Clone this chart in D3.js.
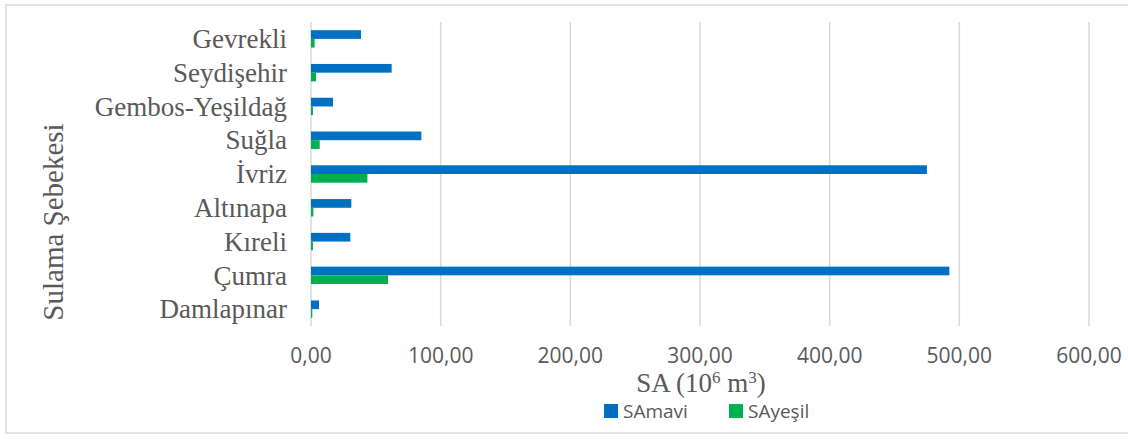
<!DOCTYPE html>
<html>
<head>
<meta charset="utf-8">
<script src="https://cdn.jsdelivr.net/npm/d3@7"></script>
<style>
  body { margin: 0; background: #fff; }
</style>
</head>
<body>
<div id="d3-container"></div>
<script>
/**
 * CONSTANTS AND GLOBALS
 * */
const width = 1128,
  height = 439,
  margin = { top: 22, bottom: 113, left: 311, right: 39 };

// categories listed top to bottom, as drawn
const categories = ["Gevrekli", "Seydişehir", "Gembos-Yeşildağ", "Suğla", "İvriz",
  "Altınapa", "Kıreli", "Çumra", "Damlapınar"];
const series = ["SAmavi", "SAyeşil"];
const saMavi = [38.6, 62.2, 17.0, 85.1, 475.0, 31.1, 30.3, 492.3, 6.2];
const saYesil = [2.8, 3.9, 1.5, 6.7, 43.5, 1.8, 1.5, 59.4, 1.0];
const xTicks = [0, 100, 200, 300, 400, 500, 600];

const colors = { SAmavi: "#0070C0", SAyeşil: "#00B050" };
const textColor = "#595959";
const gridColor = "#d9d9d9";

let svg;

const rows = categories.map((c, i) => ({ cat: c, SAmavi: saMavi[i], SAyeşil: saYesil[i] }));

init();

function init() {
  svg = d3
    .select("#d3-container")
    .append("svg")
    .attr("width", width)
    .attr("height", height)
    .style("font-family", "'Liberation Serif', 'Times New Roman', serif");

  // chart border
  svg.append("rect")
    .attr("x", 6)
    .attr("y", 5)
    .attr("width", 1130)
    .attr("height", 428)
    .attr("fill", "none")
    .attr("stroke", gridColor)
    .attr("stroke-width", 1.5);

  const x = d3.scaleLinear()
    .domain([0, 600])
    .range([margin.left, width - margin.right]);

  const y = d3.scaleBand()
    .domain(categories)
    .range([margin.top, height - margin.bottom])
    .paddingInner(0.485)
    .paddingOuter(0.2425);

  const ySub = d3.scaleBand()
    .domain(series)
    .range([0, y.bandwidth()]);

  // comma as decimal mark
  const locale = d3.formatLocale({ decimal: ",", thousands: ".", grouping: [3], currency: ["", ""] });
  const fmt = locale.format(".2f");

  // vertical gridlines
  svg.append("g")
    .selectAll("line")
    .data(xTicks)
    .join("line")
    .attr("x1", d => x(d))
    .attr("x2", d => x(d))
    .attr("y1", margin.top)
    .attr("y2", height - margin.bottom)
    .attr("stroke", gridColor)
    .attr("stroke-width", 1.5);

  // tick labels
  svg.append("g")
    .selectAll("text")
    .data(xTicks)
    .join("text")
    .attr("x", d => x(d))
    .attr("y", 363)
    .attr("text-anchor", "middle")
    .attr("font-family", "'Open Sans', sans-serif")
    .attr("font-size", "21px")
    .attr("fill", textColor)
    .text(d => fmt(d));

  // bars
  svg.append("g")
    .selectAll("g")
    .data(rows)
    .join("g")
    .attr("transform", d => `translate(0,${y(d.cat)})`)
    .selectAll("rect")
    .data(d => series.map(s => ({ key: s, value: d[s] })))
    .join("rect")
    .attr("x", x(0))
    .attr("y", d => ySub(d.key))
    .attr("width", d => x(d.value) - x(0))
    .attr("height", ySub.bandwidth())
    .attr("fill", d => colors[d.key]);

  // category labels
  svg.append("g")
    .selectAll("text")
    .data(categories)
    .join("text")
    .attr("x", 287)
    .attr("y", d => y(d) + y.bandwidth() / 2)
    .attr("dy", "0.34em")
    .attr("text-anchor", "end")
    .attr("font-size", "27px")
    .attr("fill", textColor)
    .text(d => d);

  // y axis title
  svg.append("text")
    .attr("transform", "translate(63,222) rotate(-90)")
    .attr("text-anchor", "middle")
    .attr("font-size", "29px")
    .attr("fill", textColor)
    .text("Sulama Şebekesi");

  // x axis title with superscripts
  const xt = svg.append("text")
    .attr("x", 701)
    .attr("y", 392)
    .attr("text-anchor", "middle")
    .attr("font-size", "27px")
    .attr("fill", textColor);
  xt.append("tspan").text("SA (10");
  xt.append("tspan").attr("font-size", "17px").attr("dy", -9).text("6");
  xt.append("tspan").attr("dy", 9).text(" m");
  xt.append("tspan").attr("font-size", "17px").attr("dy", -9).text("3");
  xt.append("tspan").attr("dy", 9).text(")");

  // legend
  const legendX = [604, 729];
  const legend = svg.append("g")
    .selectAll("g")
    .data(series)
    .join("g")
    .attr("transform", (d, i) => `translate(${legendX[i]},404)`);
  legend.append("rect")
    .attr("width", 14)
    .attr("height", 14)
    .attr("fill", d => colors[d]);
  legend.append("text")
    .attr("x", 19)
    .attr("y", 14)
    .attr("font-family", "'Open Sans', sans-serif")
    .attr("font-size", "19px")
    .attr("fill", textColor)
    .text(d => d);
}
</script>
</body>
</html>
